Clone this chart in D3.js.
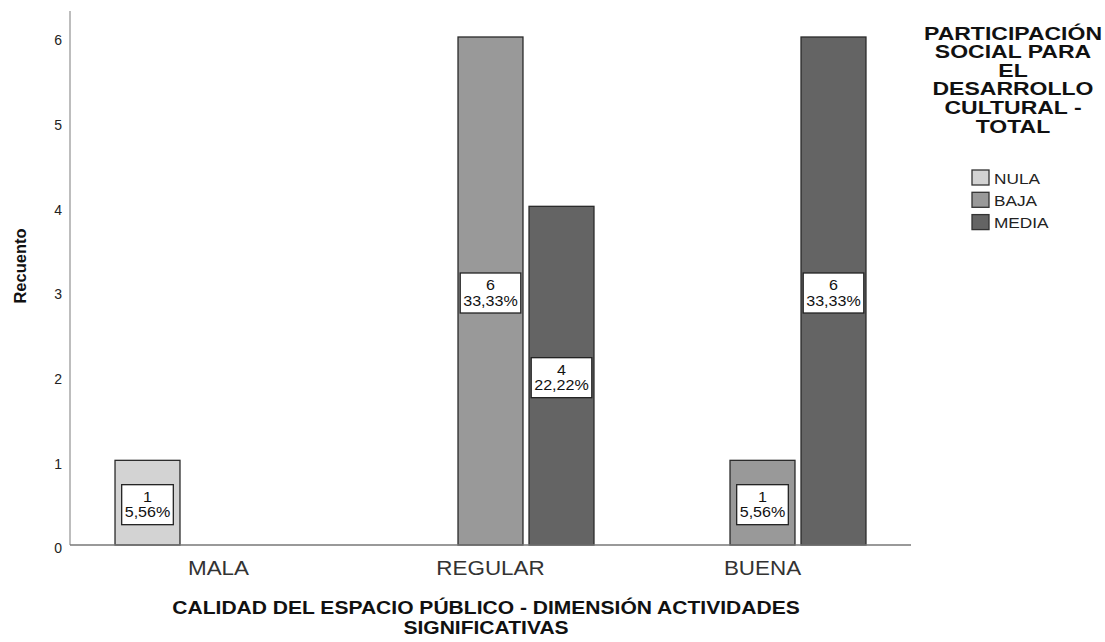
<!DOCTYPE html>
<html><head><meta charset="utf-8">
<script src="https://cdn.jsdelivr.net/npm/d3@7"></script>
<style>body{margin:0;background:#fff}svg{display:block}text{font-family:"Liberation Sans",Arial,sans-serif}</style>
</head><body>
<svg id="c" width="1105" height="642"></svg>
<script>
const categories = ["MALA", "REGULAR", "BUENA"];
const series = ["NULA", "BAJA", "MEDIA"];
const counts = {
  NULA:  [1, 0, 0],
  BAJA:  [0, 6, 1],
  MEDIA: [0, 4, 6]
};
const percents = {
  NULA:  ["5,56%", null, null],
  BAJA:  [null, "33,33%", "5,56%"],
  MEDIA: [null, "22,22%", "33,33%"]
};
const yTicks = [0, 1, 2, 3, 4, 5, 6];
const colors = ["#d3d3d3", "#999999", "#646464"];
const legendTitle = ["PARTICIPACIÓN", "SOCIAL PARA", "EL", "DESARROLLO", "CULTURAL -", "TOTAL"];
const xTitle = ["CALIDAD DEL ESPACIO PÚBLICO - DIMENSIÓN ACTIVIDADES", "SIGNIFICATIVAS"];
const yTitle = "Recuento";

const SX = 1.15; // horizontal text stretch seen in the reference
const svg = d3.select("#c");
const y = d3.scaleLinear().domain([0, 6]).range([545, 37]);
const x0 = d3.scaleBand().domain(categories).range([82.5, 898.5]).paddingInner(0);
const x1 = d3.scaleBand().domain(series).range([0, x0.bandwidth()]).paddingInner(0.085).paddingOuter(0.458);
const color = d3.scaleOrdinal().domain(series).range(colors);

// y axis line
svg.append("line").attr("x1", 70).attr("x2", 70).attr("y1", 11).attr("y2", y(0))
  .attr("stroke", "#9a9a9a").attr("stroke-width", 1.3);

// y tick labels
const yAxis = d3.axisLeft(y).tickValues(yTicks).tickSize(0).tickPadding(8).tickFormat(d3.format("d"));
const yg = svg.append("g").attr("transform", "translate(70,0)").call(yAxis);
yg.select(".domain").remove();
yg.selectAll("text").attr("font-size", 14).attr("fill", "#222").attr("dy", "0.57em")
  .style("font-family", '"Liberation Sans",Arial,sans-serif');

// bars
const data = [];
series.forEach(s => categories.forEach((c, i) => {
  if (counts[s][i] > 0) data.push({s, c, v: counts[s][i], p: percents[s][i]});
}));
svg.append("g").selectAll("rect").data(data).join("rect")
  .attr("x", d => x0(d.c) + x1(d.s))
  .attr("y", d => y(d.v))
  .attr("width", x1.bandwidth())
  .attr("height", d => y(0) - y(d.v))
  .attr("fill", d => color(d.s))
  .attr("stroke", "#2a2a2a").attr("stroke-width", 1.3);

// x axis line
svg.append("line").attr("x1", 70).attr("x2", 911).attr("y1", y(0)).attr("y2", y(0))
  .attr("stroke", "#777").attr("stroke-width", 1.3);

// x category labels
const xAxis = d3.axisBottom(x0).tickSize(0).tickPadding(16);
const xg = svg.append("g").attr("transform", `translate(0,${y(0)})`).call(xAxis);
xg.select(".domain").remove();
xg.selectAll("text").attr("font-size", 19.5).attr("fill", "#333")
  .attr("transform", `scale(${SX},1)`)
  .style("font-family", '"Liberation Sans",Arial,sans-serif');

// value labels
const lab = svg.append("g").selectAll("g").data(data).join("g")
  .attr("transform", d => `translate(${x0(d.c) + x1(d.s) + x1.bandwidth() / 2},${(y(d.v) + y(0)) / 2 + 2})`);
lab.each(function(d) {
  const g = d3.select(this);
  const rect = g.append("rect").attr("fill", "#fff").attr("stroke", "#222").attr("stroke-width", 1.3);
  const t1 = g.append("text").attr("text-anchor", "middle").attr("transform", `translate(0,-3) scale(${SX},1)`)
    .attr("font-size", 14).attr("fill", "#111").text(d.v);
  const t2 = g.append("text").attr("text-anchor", "middle").attr("transform", `translate(0,12.5) scale(${SX},1)`)
    .attr("font-size", 14).attr("fill", "#111").text(d.p);
  const w = Math.max(t1.node().getComputedTextLength(), t2.node().getComputedTextLength()) * SX + 6;
  rect.attr("x", -w / 2).attr("y", -20).attr("width", w).attr("height", 40);
});

// y title
svg.append("text").attr("transform", "translate(26,266) rotate(-90)").attr("text-anchor", "middle")
  .attr("font-size", 16.5).attr("font-weight", "bold").attr("fill", "#111").text(yTitle);

// x title
svg.append("g").selectAll("text").data(xTitle).join("text")
  .attr("transform", (d, i) => `translate(486,${614 + i * 20}) scale(${SX},1)`).attr("text-anchor", "middle")
  .attr("font-size", 18.3).attr("font-weight", "bold").attr("fill", "#111").text(d => d);

// legend
const lg = svg.append("g");
lg.selectAll("text.t").data(legendTitle).join("text").attr("class", "t")
  .attr("transform", (d, i) => `translate(1013,${39.5 + i * 18.6}) scale(1.23,1)`).attr("text-anchor", "middle")
  .attr("font-size", 18.7).attr("font-weight", "bold").attr("fill", "#111").text(d => d);
const li = lg.selectAll("g.i").data(series).join("g").attr("class", "i")
  .attr("transform", (d, i) => `translate(972,${170 + i * 22.3})`);
li.append("rect").attr("width", 17).attr("height", 15).attr("fill", d => color(d)).attr("stroke", "#333").attr("stroke-width", 1.3);
li.append("text").attr("transform", `translate(22,13.5) scale(${SX},1)`).attr("font-size", 15).attr("fill", "#222").text(d => d);
</script>
</body></html>
